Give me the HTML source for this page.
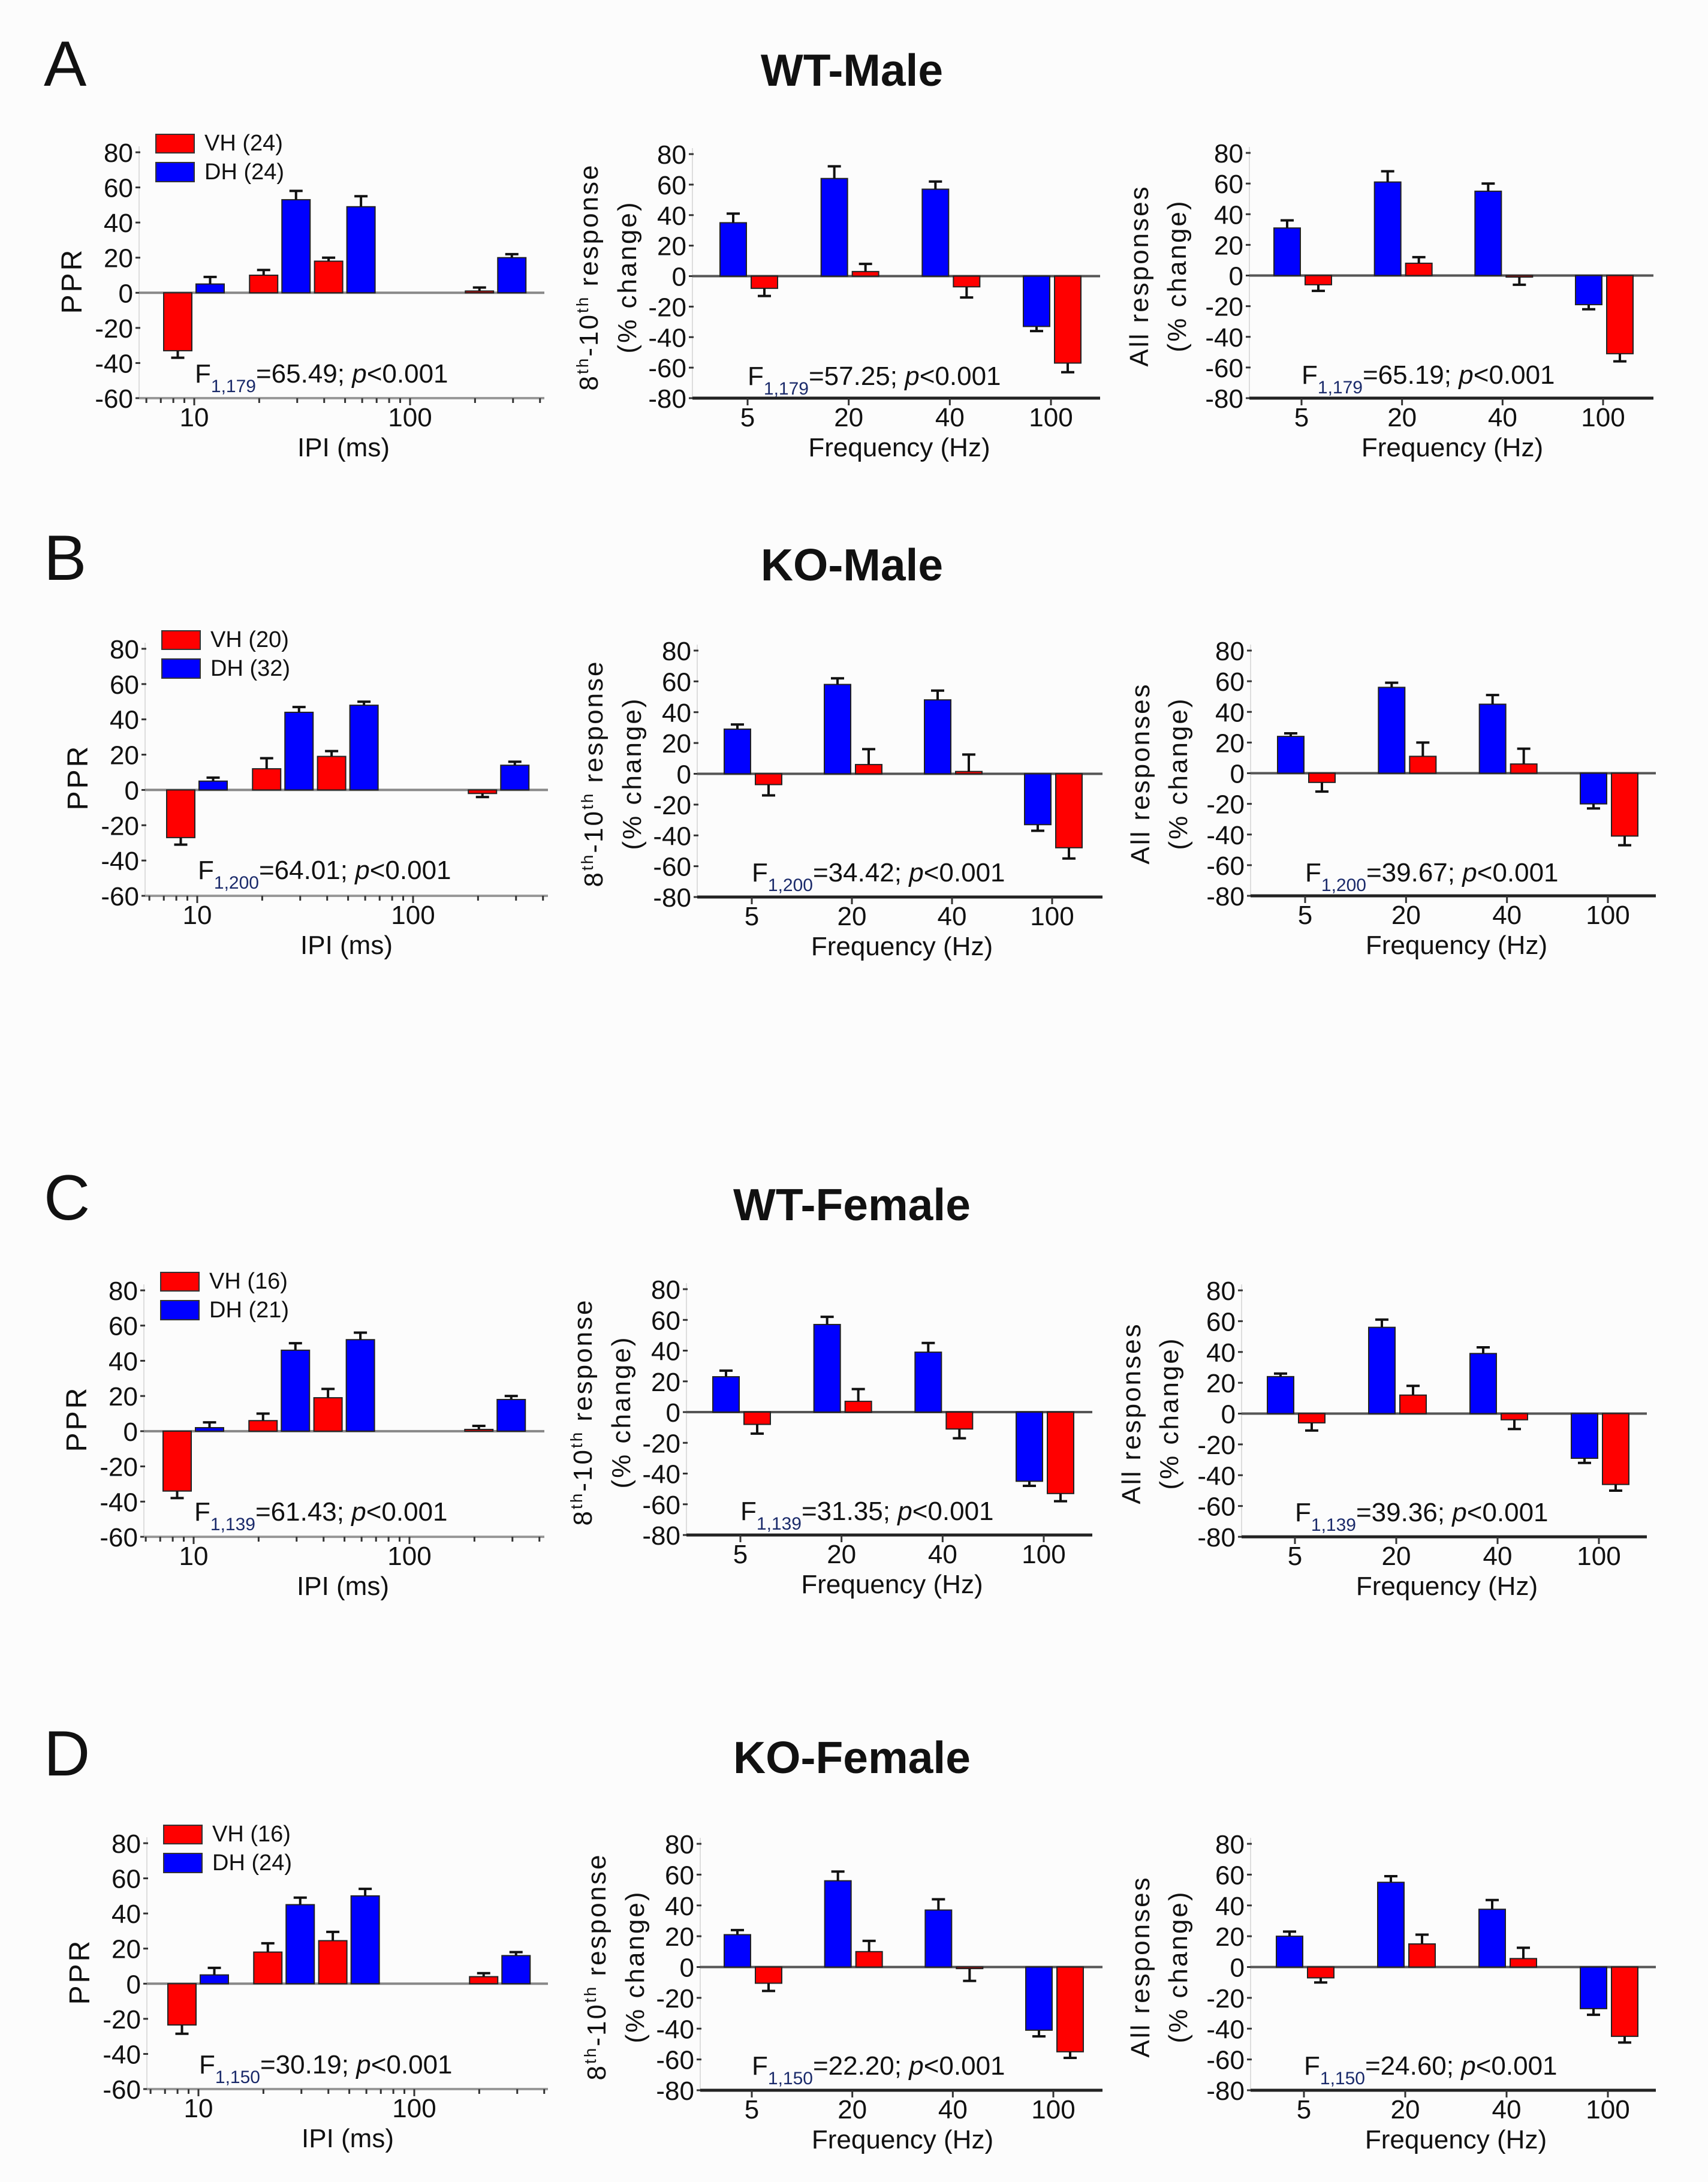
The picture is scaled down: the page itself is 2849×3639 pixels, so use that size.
<!DOCTYPE html>
<html><head><meta charset="utf-8">
<style>
html,body{margin:0;padding:0;background:#fcfcfc;}
svg{display:block;font-family:"Liberation Sans",sans-serif;}
</style></head>
<body>
<svg id="fig" width="2849" height="3639" viewBox="0 0 2849 3639" xmlns="http://www.w3.org/2000/svg">
<rect x="0" y="0" width="2849" height="3639" fill="#fcfcfc"/>
</svg>
<script>
// ---------- data ----------
const freqCats = ['5','20','40','100'];
const ipiValues = [10, 25, 50, 250];
const ipiTickLabels = ['10','100'];
const ppTicks = [80,60,40,20,0,-20,-40,-60];
const frTicks = [80,60,40,20,0,-20,-40,-60,-80];

// Row A WT-Male
const aPprVH = [-33, 10, 18, 1];      const aPprVHErr = [4, 3, 2, 2];
const aPprDH = [5, 53, 49, 20];       const aPprDHErr = [4, 5, 6, 2];
const aLateDH = [35, 64, 57, -33];    const aLateDHErr = [6, 8, 5, 3];
const aLateVH = [-8, 3, -7, -57];     const aLateVHErr = [5, 5, 7, 6];
const aAllDH = [31, 61, 55, -19];     const aAllDHErr = [5, 7, 5, 3];
const aAllVH = [-6, 8, -1, -51];      const aAllVHErr = [4, 4, 5, 5];
// Row B KO-Male
const bPprVH = [-27, 12, 19, -2];     const bPprVHErr = [4, 6, 3, 2];
const bPprDH = [5, 44, 48, 14];       const bPprDHErr = [2, 3, 2, 2];
const bLateDH = [29, 58, 48, -33];    const bLateDHErr = [3, 4, 6, 4];
const bLateVH = [-7, 6, 1.5, -48];    const bLateVHErr = [7, 10, 11, 7];
const bAllDH = [24, 56, 45, -20];     const bAllDHErr = [2, 3, 6, 3];
const bAllVH = [-6, 11, 6, -41];      const bAllVHErr = [6, 9, 10, 6];
// Row C WT-Female
const cPprVH = [-34, 6, 19, 1];       const cPprVHErr = [4, 4, 5, 2];
const cPprDH = [2, 46, 52, 18];       const cPprDHErr = [3, 4, 4, 2];
const cLateDH = [23, 57, 39, -45];    const cLateDHErr = [4, 5, 6, 3];
const cLateVH = [-8, 7, -11, -53];    const cLateVHErr = [6, 8, 6, 5];
const cAllDH = [24, 56, 39, -29];     const cAllDHErr = [2, 5, 4, 3];
const cAllVH = [-6, 12, -4, -46];     const cAllVHErr = [5, 6, 6, 4];
// Row D KO-Female
const dPprVH = [-23.5, 18, 24.5, 4];  const dPprVHErr = [5, 5, 5, 2];
const dPprDH = [5, 45, 50, 16];       const dPprDHErr = [4, 4, 4, 2];
const dLateDH = [21, 56, 37, -41];    const dLateDHErr = [3, 6, 7, 4];
const dLateVH = [-10.5, 10, -1, -55]; const dLateVHErr = [5, 7, 8, 4];
const dAllDH = [20, 55, 37.5, -27];   const dAllDHErr = [3, 4, 6, 4];
const dAllVH = [-7, 15, 5.5, -45];    const dAllVHErr = [3, 6, 7, 4];

const rowTitles = ['WT-Male','KO-Male','WT-Female','KO-Female'];
const rowLetters = ['A','B','C','D'];
const legendVH = ['VH (24)','VH (20)','VH (16)','VH (16)'];
const legendDH = ['DH (24)','DH (32)','DH (21)','DH (24)'];
const fDf = ['1,179','1,200','1,139','1,150'];
const fPpr = ['=65.49; ','=64.01; ','=61.43; ','=30.19; '];
const fLate = ['=57.25; ','=34.42; ','=31.35; ','=22.20; '];
const fAll = ['=65.19; ','=39.67; ','=39.36; ','=24.60; '];

// ---------- layout ----------
const rowsLayout = [
 {letterY:143, titleY:143, p1:{ax:232,top:254,bot:664,x10:324,right:908}, p2:{ax:1155,top:257,bot:664,t0:1247,t3:1753,right:1835}, p3:{ax:2084,top:255,bot:664,t0:2171,t3:2674,right:2758}},
 {letterY:967, titleY:968, p1:{ax:242,top:1082,bot:1494,x10:329,right:914}, p2:{ax:1163,top:1085,bot:1496,t0:1254,t3:1755,right:1839}, p3:{ax:2086,top:1085,bot:1494,t0:2177,t3:2682,right:2762}},
 {letterY:2034, titleY:2035, p1:{ax:240,top:2152,bot:2563,x10:323,right:908}, p2:{ax:1145,top:2150,bot:2560,t0:1235,t3:1741,right:1822}, p3:{ax:2071,top:2152,bot:2563,t0:2160,t3:2667,right:2747}},
 {letterY:2961, titleY:2957, p1:{ax:245,top:3074,bot:3484,x10:331,right:914}, p2:{ax:1168,top:3075,bot:3486,t0:1254,t3:1757,right:1839}, p3:{ax:2086,top:3075,bot:3486,t0:2175,t3:2682,right:2762}}
];
const rowData = [
 [aPprVH,aPprVHErr,aPprDH,aPprDHErr,aLateDH,aLateDHErr,aLateVH,aLateVHErr,aAllDH,aAllDHErr,aAllVH,aAllVHErr],
 [bPprVH,bPprVHErr,bPprDH,bPprDHErr,bLateDH,bLateDHErr,bLateVH,bLateVHErr,bAllDH,bAllDHErr,bAllVH,bAllVHErr],
 [cPprVH,cPprVHErr,cPprDH,cPprDHErr,cLateDH,cLateDHErr,cLateVH,cLateVHErr,cAllDH,cAllDHErr,cAllVH,cAllVHErr],
 [dPprVH,dPprVHErr,dPprDH,dPprDHErr,dLateDH,dLateDHErr,dLateVH,dLateVHErr,dAllDH,dAllDHErr,dAllVH,dAllVHErr]
];

const NS = 'http://www.w3.org/2000/svg';
const svg = document.getElementById('fig');
const RED = '#ff0000', BLUE = '#0000ff';
function mk(tag, attrs, parent, txt){
  const e = document.createElementNS(NS, tag);
  for (const k in attrs) e.setAttribute(k, attrs[k]);
  if (txt !== undefined) e.textContent = txt;
  (parent || svg).appendChild(e);
  return e;
}
function yS(p, ymin){ return v => p.top + (80 - v) * (p.bot - p.top) / (80 - ymin); }

function bar(g, x0, w, v, err, color, y, name){
  const y0 = y(0), yv = y(v);
  const r = mk('rect', {x:x0, y:Math.min(y0,yv), width:w, height:Math.max(1,Math.abs(yv-y0)), fill:color, stroke:'#222', 'stroke-width':2}, g);
  
  
  const ye = y(v + (v >= 0 ? err : -err));
  const cx = x0 + w/2;
  const eb = mk('path', {d:`M${cx},${yv}L${cx},${ye}M${cx-11},${ye}L${cx+11},${ye}`, stroke:'#111', 'stroke-width':4, fill:'none'}, g);
  
  
}

function yAxis(g, p, ticks, y){
  mk('line',{x1:p.ax,y1:p.top-10,x2:p.ax,y2:p.bot,stroke:'#ddd','stroke-width':2},g);
  ticks.forEach(t=>{
    const yy = y(t);
    mk('line',{x1:p.ax-6,y1:yy,x2:p.ax+2,y2:yy,stroke:'#333','stroke-width':3},g);
    const tl = mk('text',{x:p.ax-10,y:yy+16,'font-size':44,'text-anchor':'end',fill:'#111'},g,String(t));
    
    
  });
}

function fText(g, x, yb, df, val){
  const t = mk('text',{x:x,y:yb,'font-size':44,fill:'#111'},g);
  
  
  mk('tspan',{},t,'F');
  mk('tspan',{dy:16,'font-size':30,fill:'#1a2a6a'},t,df);
  mk('tspan',{dy:-16},t,val);
  mk('tspan',{'font-style':'italic'},t,'p');
  mk('tspan',{},t,'<0.001');
}

rowsLayout.forEach((L, r) => {
  const D = rowData[r];
  const rg = mk('g', {});
  
  
  const lt = mk('text',{x:73,y:L.letterY,'font-size':107,fill:'#111'},rg,rowLetters[r]);
  
  
  const tt = mk('text',{x:1421,y:L.titleY,'font-size':75,'font-weight':'bold','text-anchor':'middle',fill:'#111'},rg,rowTitles[r]);
  
  

  // ----- panel 1: PPR -----
  const p = L.p1;
  const g1 = mk('g',{},rg);
  
  
  const y1 = yS(p, -60);
  const xl = v => p.x10 + Math.log10(v/10) * 360;
  yAxis(g1, p, ppTicks, y1);
  mk('line',{x1:p.ax,y1:y1(0),x2:p.right,y2:y1(0),stroke:'#888','stroke-width':4},g1);
  mk('line',{x1:p.ax,y1:p.bot,x2:p.right,y2:p.bot,stroke:'#999','stroke-width':4},g1);
  [6,7,8,9,10,20,30,40,50,60,70,80,90,100,200,300,400].forEach(m=>{
    const xx = xl(m); const major = (m===10||m===100);
    mk('line',{x1:xx,y1:p.bot,x2:xx,y2:p.bot+(major?12:8),stroke:'#333','stroke-width':3},g1);
  });
  [10,100].forEach((m,i)=>{
    const tl = mk('text',{x:xl(m),y:p.bot+47,'font-size':44,'text-anchor':'middle',fill:'#111'},g1,ipiTickLabels[i]);
    
    
  });
  ipiValues.forEach((v,i)=>{
    const c = xl(v);
    bar(g1, c-51, 47, D[0][i], D[1][i], RED, y1, 'bar-vh-ipi-'+v);
    bar(g1, c+3, 47, D[2][i], D[3][i], BLUE, y1, 'bar-dh-ipi-'+v);
  });
  const yl1 = mk('text',{x:0,y:0,'font-size':48,'text-anchor':'middle',fill:'#111','letter-spacing':4,transform:`translate(${p.ax-96},${p.top+214}) rotate(-90)`},g1,'PPR');
  
  
  const xt1 = mk('text',{x:p.x10+249,y:p.bot+97,'font-size':44,'text-anchor':'middle',fill:'#111'},g1,'IPI (ms)');
  
  
  fText(g1, p.x10+1, p.top+384, fDf[r], fPpr[r]);
  // legend
  const lg = mk('g',{},g1);
  
  
  const s1 = mk('rect',{x:p.ax+28,y:p.top-30,width:64,height:31,fill:RED,stroke:'#333','stroke-width':2},lg);
  
  
  const s2 = mk('rect',{x:p.ax+28,y:p.top+17,width:64,height:32,fill:BLUE,stroke:'#333','stroke-width':2},lg);
  
  
  const l1 = mk('text',{x:p.ax+109,y:p.top-3,'font-size':38,fill:'#111'},lg,legendVH[r]);
  
  
  const l2 = mk('text',{x:p.ax+109,y:p.top+45,'font-size':38,fill:'#111'},lg,legendDH[r]);
  
  

  // ----- panels 2 & 3 -----
  [[L.p2, D[4],D[5],D[6],D[7], fLate[r], 'late-response-chart'],
   [L.p3, D[8],D[9],D[10],D[11], fAll[r], 'all-responses-chart']].forEach((cfg, k) => {
    const q = cfg[0];
    const g = mk('g',{},rg);
    
    
    const y = yS(q, -80);
    const step = (q.t3 - q.t0) / 3;
    const xc = i => q.t0 + i * step;
    yAxis(g, q, frTicks, y);
    mk('line',{x1:q.ax,y1:y(0),x2:q.right,y2:y(0),stroke:'#555','stroke-width':4},g);
    mk('line',{x1:q.ax,y1:q.bot,x2:q.right,y2:q.bot,stroke:'#222','stroke-width':5},g);
    freqCats.forEach((c,i)=>{
      mk('line',{x1:xc(i),y1:q.bot,x2:xc(i),y2:q.bot+12,stroke:'#333','stroke-width':3},g);
      const tl = mk('text',{x:xc(i),y:q.bot+47,'font-size':44,'text-anchor':'middle',fill:'#111'},g,c);
      
      
      bar(g, xc(i)-46, 44, cfg[1][i], cfg[2][i], BLUE, y, 'bar-dh-'+c+'hz');
      bar(g, xc(i)+6, 44, cfg[3][i], cfg[4][i], RED, y, 'bar-vh-'+c+'hz');
    });
    const xt = mk('text',{x:(q.t0+q.t3)/2,y:q.bot+97,'font-size':44,'text-anchor':'middle',fill:'#111'},g,'Frequency (Hz)');
    
    
    fText(g, q.t0, q.top+385, fDf[r], cfg[5]);
    const cy = q.top + 205;
    if (k === 0) {
      const a = mk('text',{x:0,y:0,'font-size':44,'text-anchor':'middle',fill:'#111','letter-spacing':3,transform:`translate(${q.ax-158},${cy}) rotate(-90)`},g);
      
      
      mk('tspan',{},a,'8');
      mk('tspan',{dy:-16,'font-size':28},a,'th');
      mk('tspan',{dy:16},a,'-10');
      mk('tspan',{dy:-16,'font-size':28},a,'th');
      mk('tspan',{dy:16},a,' response');
      const b = mk('text',{x:0,y:0,'font-size':44,'text-anchor':'middle',fill:'#111','letter-spacing':3,transform:`translate(${q.ax-94},${cy}) rotate(-90)`},g,'(% change)');
      
      
    } else {
      const a = mk('text',{x:0,y:0,'font-size':44,'text-anchor':'middle',fill:'#111','letter-spacing':3,transform:`translate(${q.ax-169},${cy}) rotate(-90)`},g,'All responses');
      
      
      const b = mk('text',{x:0,y:0,'font-size':44,'text-anchor':'middle',fill:'#111','letter-spacing':3,transform:`translate(${q.ax-106},${cy}) rotate(-90)`},g,'(% change)');
      
      
    }
  });
});
</script>
</body></html>
